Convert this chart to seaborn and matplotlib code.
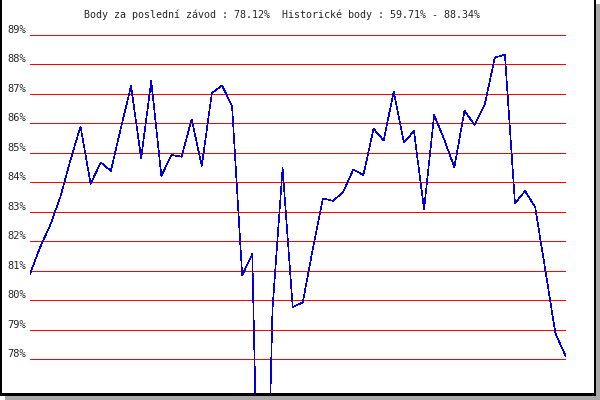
import matplotlib
matplotlib.use("Agg")
import matplotlib.pyplot as plt
import seaborn as sns
from matplotlib.patches import Rectangle

# Body (%) po jednotlivych zavodech
zavody = list(range(1, 55))
body = [80.9, 81.8, 82.55, 83.5, 84.75, 85.9, 83.95, 84.68, 84.39, 85.85,
        87.27, 84.82, 87.44, 84.22, 84.93, 84.87, 86.14, 84.56, 87.03, 87.29,
        86.59, 80.85, 81.57, 65.5, 79.7, 84.48, 79.77, 79.93, 81.77, 83.46,
        83.37, 83.68, 84.44, 84.25, 85.82, 85.42, 87.08, 85.35, 85.74, 83.09,
        86.29, 85.45, 84.51, 86.43, 85.95, 86.63, 88.23, 88.34, 83.29, 83.71,
        83.16, 81.03, 78.88, 78.12]
y_ticks = list(range(78, 90))
y_labels = [f"{v}%" for v in y_ticks]
titulek = "Body za poslední závod : 78.12%  Historické body : 59.71% - 88.34%"

W, H = 600, 400


def px_rect(fig, x0, y0, x1, y1, color):
    # rectangle in image pixels (origin top-left)
    fig.add_artist(Rectangle((x0 / W, 1 - y1 / H), (x1 - x0) / W, (y1 - y0) / H,
                             transform=fig.transFigure, color=color, lw=0,
                             antialiased=False))


def main():
    sns.set_style("white")
    plt.rcParams["font.family"] = ["DejaVu Sans Mono"]

    fig = plt.figure(figsize=(6, 4), dpi=100)
    # pixel mapping: 89% at y=35, 29.48 px per 1%
    top_px, bot_px = 25, 394
    ymax = 89 + (35 - top_px) / 29.48
    ymin = 89 - (bot_px - 35) / 29.48
    ax = fig.add_axes([30 / W, 1 - bot_px / H, (565.5 - 30) / W, (bot_px - top_px) / H])

    for v in y_ticks:
        ax.axhline(v, color="#ff0000", linewidth=0.6, antialiased=False, zorder=1)

    sns.lineplot(x=zavody, y=body, ax=ax, color="#0000dd", linewidth=0.45, zorder=3)
    for ln in ax.lines:
        ln.set_antialiased(False)

    ax.set_xlim(zavody[0], zavody[-1])
    ax.set_ylim(ymin, ymax)
    ax.set_xticks([])
    ax.set_yticks(y_ticks)
    ax.set_yticklabels(y_labels, fontsize=7.5, va="bottom")
    ax.tick_params(axis="y", length=0, pad=3)
    ax.set_xlabel("")
    ax.set_ylabel("")
    for s in ax.spines.values():
        s.set_visible(False)

    fig.text(282 / W, 1 - 15 / H, titulek, ha="center", va="center", fontsize=7.2)

    # frame with shadow
    px_rect(fig, 5, 396, 600, 400, "#a8a8a8")
    px_rect(fig, 596, 4, 600, 400, "#a8a8a8")
    px_rect(fig, 0, 0, 2, 396, "black")
    px_rect(fig, 0, 393, 596, 396, "black")
    px_rect(fig, 593.5, 0, 596, 396, "black")

    fig.savefig("out.png", dpi=100)


if __name__ == "__main__":
    main()
